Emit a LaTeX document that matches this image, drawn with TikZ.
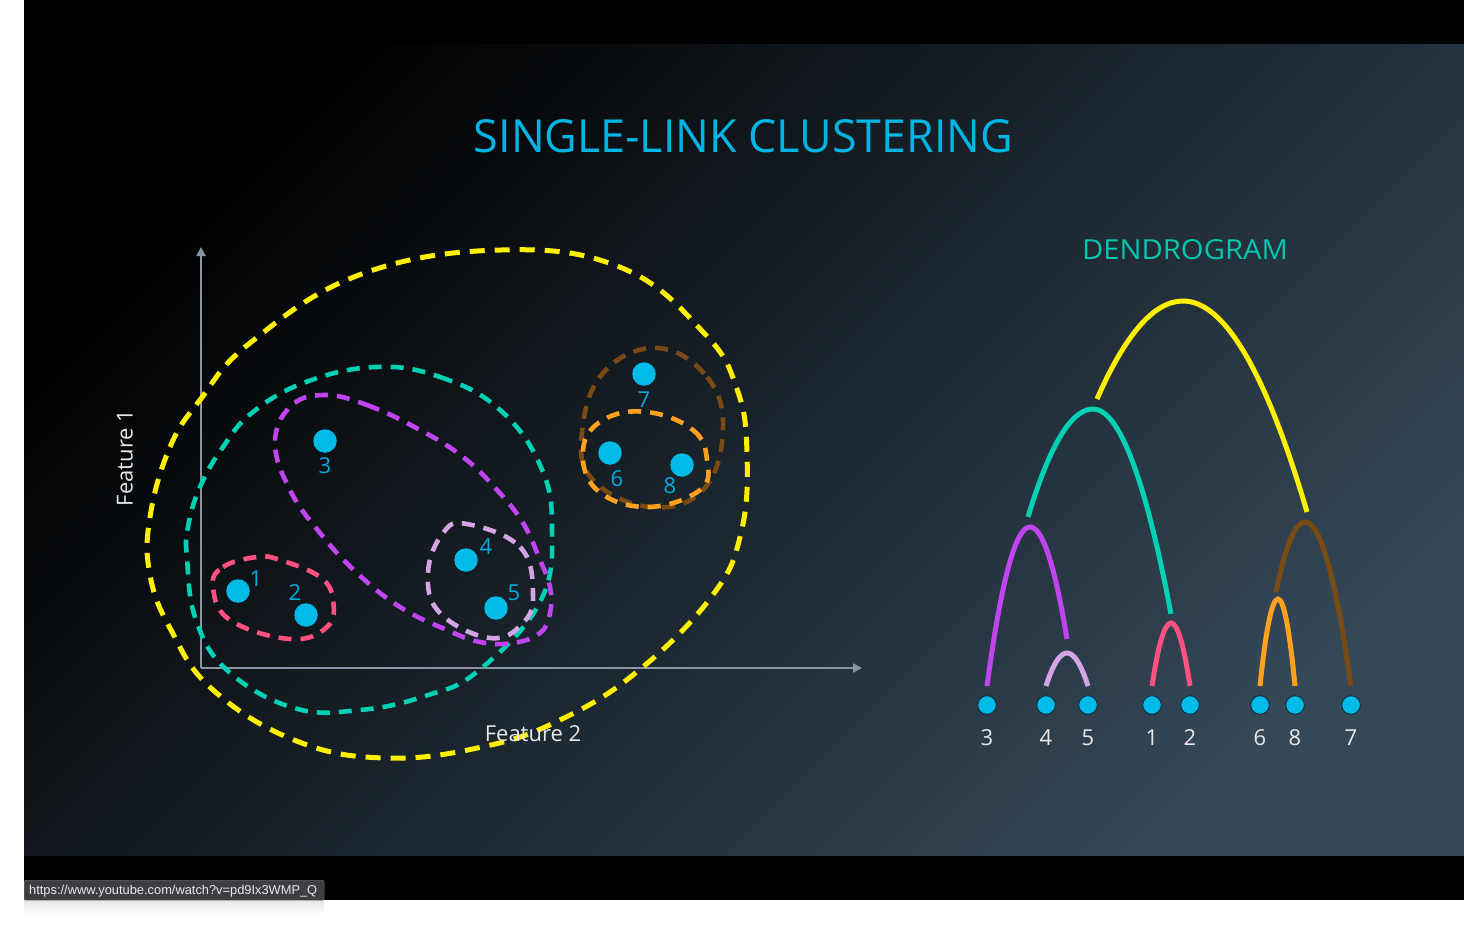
\documentclass[tikz,border=0pt]{standalone}
\usepackage{fontspec}
\usepackage{graphicx}
\setmainfont{Open Sans}
\newfontfamily\urlfont{Liberation Sans}
\usetikzlibrary{arrows.meta}
\definecolor{titlecyan}{RGB}{0,180,228}
\definecolor{dendteal}{RGB}{0,200,176}
\definecolor{ptcyan}{RGB}{0,186,232}
\definecolor{lblcyan}{RGB}{0,172,220}
\definecolor{cyel}{RGB}{255,240,0}
\definecolor{cteal}{RGB}{0,208,180}
\definecolor{cpurple}{RGB}{192,68,240}
\definecolor{clav}{RGB}{212,164,228}
\definecolor{cpink}{RGB}{255,80,130}
\definecolor{cbrown}{RGB}{122,74,20}
\definecolor{corange}{RGB}{255,160,32}
\definecolor{axisgray}{RGB}{138,148,162}
\definecolor{bgtl}{RGB}{0,0,0}
\definecolor{bgmid}{RGB}{20,25,30}
\definecolor{bgbr}{RGB}{52,72,88}
\definecolor{tipbg}{RGB}{60,62,66}
\definecolor{softwhite}{RGB}{232,232,232}
\definecolor{leafedge}{RGB}{10,40,56}
\newcommand\dendarc[7]{%
  \pgfmathsetmacro\dax{#2+(#4-#2)/3}%
  \pgfmathsetmacro\day{#3+2*(#5-#3)/3}%
  \pgfmathsetmacro\dbx{#4-(#4-#2)/3}%
  \pgfmathsetmacro\dcx{#4+(#6-#4)/3}%
  \pgfmathsetmacro\ddx{#6-(#6-#4)/3}%
  \pgfmathsetmacro\ddy{#7+2*(#5-#7)/3}%
  \draw[dline,#1] (#2,#3) .. controls (\dax,\day) and (\dbx,#5) .. (#4,#5) .. controls (\dcx,#5) and (\ddx,\ddy) .. (#6,#7);}
\begin{document}
\begin{tikzpicture}[x=1pt,y=-1pt,
  axisline/.style={draw=axisgray,line width=2pt,-{Triangle[length=9pt,width=9pt]}},
  clus/.style={line width=4.6pt,dash pattern=on 13pt off 9pt},
  pt/.style={circle,fill=ptcyan,minimum size=23.5pt,inner sep=0pt},
  plbl/.style={text=lblcyan,inner sep=0pt,font=\fontsize{22}{26}\selectfont},
  feat/.style={text=softwhite,inner sep=0pt,font=\fontsize{22}{26}\selectfont},
  leaf/.style={circle,fill=ptcyan,draw=leafedge,line width=0.8pt,minimum size=18.5pt,inner sep=0pt},
  dlbl/.style={text=softwhite,inner sep=0pt,font=\fontsize{22}{26}\selectfont},
  dline/.style={line width=5pt}]
\useasboundingbox (0,0) rectangle (1464,928);
% frame and background
\fill[white] (0,0) rectangle (1464,928);
\fill[black] (24,0) rectangle (1464,900);
\shade[top color=bgtl,middle color=bgmid,bottom color=bgbr,shading angle=45] (24,45) rectangle (1464,855);
\shade[top color=black!10,bottom color=white] (24,900) rectangle (324,914);
% title
\node[inner sep=0pt,text=titlecyan] (title) at (743.5,136.5) {\resizebox{539pt}{33pt}{\fontsize{46}{50}\selectfont SINGLE-LINK CLUSTERING}};
\node[inner sep=0pt,text=dendteal] (dtitle) at (1185,250) {\resizebox{206pt}{20pt}{\fontsize{28}{32}\selectfont DENDROGRAM}};
% axes
\coordinate (O) at (201,668);
\coordinate (ytop) at (201,247);
\coordinate (xend) at (862,668);
\draw[axisline] (O) -- (ytop);
\draw[axisline] (O) -- (xend);
\node[feat,rotate=90] (f1) at (125,458) {Feature 1};
% clusters
\draw[clus,cyel,line width=5pt,dash pattern=on 15pt off 10pt] plot[smooth cycle,tension=0.7] coordinates {(150,517) (170,447) (200,400) (250,343) (359,275) (501,250) (622,268) (704,333) (737,389) (747,454) (741,533) (712,596) (638,671) (560,720) (482,747) (384,758) (294,740) (212,689) (171,630) (150,575)};
\draw[clus,cteal] plot[smooth cycle,tension=0.7] coordinates {(376,367) (440,377) (499,409) (540,465) (552,527) (540,602) (478,671) (425,696) (360,710) (294,708) (228,671) (196,620) (187,558) (188,527) (200,487) (223,447) (253,412) (306,382)};
\draw[clus,cpurple] plot[smooth cycle,tension=0.7] coordinates {(323,395) (367,405) (420,430) (463,457) (497,490) (523,523) (540,560) (550,587) (550,613) (540,633) (513,643) (480,642) (447,630) (400,607) (357,573) (320,533) (290,490) (275,443) (290,407)};
\draw[clus,clav] plot[smooth cycle,tension=0.7] coordinates {(467,524) (520,547) (533,593) (523,623) (490,638) (440,613) (428,573) (443,533)};
\draw[clus,cpink] plot[smooth cycle,tension=0.7] coordinates {(213,587) (223,567) (257,557) (280,560) (320,577) (333,600) (327,627) (290,639) (230,620)};
\draw[clus,cbrown] plot[smooth cycle,tension=0.7] coordinates {(657,348) (707,377) (723,430) (703,490) (650,507) (593,480) (582,433) (603,373)};
\draw[clus,corange] plot[smooth cycle,tension=0.7] coordinates {(647,412) (693,430) (707,460) (700,490) (647,507) (597,490) (583,450) (603,420)};
\node[feat] (f2) at (533,734) {Feature 2};
% points
\node[pt] (p1) at (238,591) {};
\node[pt] (p2) at (306,615) {};
\node[pt] (p3) at (325,441) {};
\node[pt] (p4) at (466,560) {};
\node[pt] (p5) at (496,608) {};
\node[pt] (p6) at (610,453) {};
\node[pt] (p7) at (644,374) {};
\node[pt] (p8) at (682,465) {};
\node[plbl] (l1) at (256,579) {1};
\node[plbl] (l2) at (295,593) {2};
\node[plbl] (l3) at (325,466) {3};
\node[plbl] (l4) at (486,547) {4};
\node[plbl] (l5) at (514,593) {5};
\node[plbl] (l6) at (617,479) {6};
\node[plbl] (l7) at (644,400) {7};
\node[plbl] (l8) at (670,486) {8};
% dendrogram
\dendarc{clav}{1046}{686}{1067}{653}{1088}{686}
\dendarc{cpurple}{987}{686}{1030}{527}{1067}{639}
\dendarc{cpink}{1152}{686}{1171}{623}{1190}{686}
\dendarc{cteal}{1028}{517}{1093}{409}{1171}{614}
\dendarc{cyel}{1097}{399}{1183}{301}{1307}{512}
\dendarc{cbrown}{1276}{592}{1305}{522}{1351}{686}
\dendarc{corange}{1260}{686}{1278}{599}{1295}{686}
\foreach \n/\x in {3/987,4/1046,5/1088,1/1152,2/1190,6/1260,8/1295,7/1351}{
  \node[leaf] (d\n) at (\x,705) {};
  \node[dlbl] (dl\n) at (\x,738) {\n};
}
% url tooltip
\node[fill=tipbg,draw=black!55,line width=0.4pt,rounded corners=2pt,minimum width=300pt,minimum height=20pt,anchor=north west,inner sep=0pt] (tipbox) at (24,880) {};
\node[anchor=base west,inner sep=0pt,text=softwhite] (url) at (29,894) {\resizebox{288pt}{!}{\urlfont\fontsize{12.5}{14}\selectfont https://www.youtube.com/watch?v=pd9Ix3WMP\_Q}};
\end{tikzpicture}
\end{document}
